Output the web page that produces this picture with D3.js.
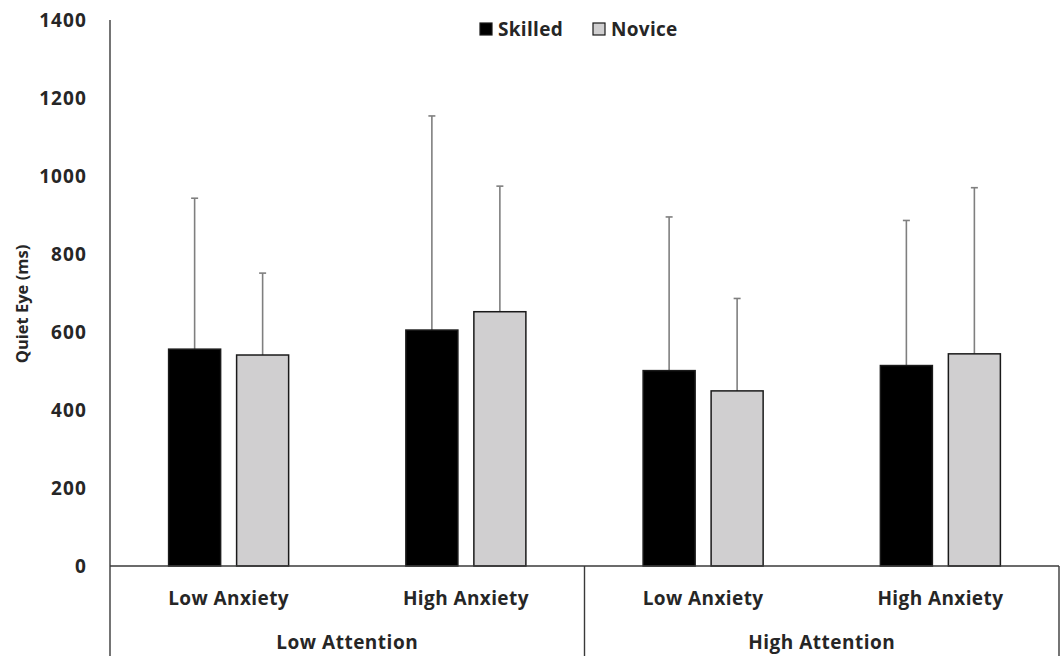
<!DOCTYPE html>
<html lang="en">
<head>
    <meta charset="UTF-8">
    <title>Quiet Eye by Attention and Anxiety</title>
    <script src="https://d3js.org/d3.v7.min.js"></script>
    <style>
        body {
            margin: 0;
            background: #ffffff;
        }
        svg text {
            font-family: 'Open Sans', sans-serif;
            font-weight: 700;
            fill: #262626;
        }
        .tick text { font-size: 19px; letter-spacing: 1.1px; }
        .cat-label { font-size: 19px; letter-spacing: 0.4px; }
        .group-label { font-size: 19px; letter-spacing: 0.5px; }
        .legend-label { font-size: 19px; letter-spacing: 0.3px; }
        .y-title { font-size: 16.5px; }
    </style>
</head>
<body>
    <svg id="chart"></svg>

    <script>
        // data
        const groups = ["Low Attention", "High Attention"];
        const anxiety = ["Low Anxiety", "High Anxiety"];
        const series = ["Skilled", "Novice"];
        const skilledMean = [556, 605, 501, 514];
        const skilledSD = [387, 549, 394, 372];
        const noviceMean = [541, 652, 449, 544];
        const noviceSD = [210, 322, 237, 426];
        const yTicks = [0, 200, 400, 600, 800, 1000, 1200, 1400];

        const width = 1060;
        const height = 656;
        const plotLeft = 110, plotRight = 1059, plotTop = 20, plotBottom = 566;

        const colors = { "Skilled": "#000000", "Novice": "#d0cfd0" };

        // one entry per bar cluster
        const conditions = [];
        groups.forEach(g => anxiety.forEach(a => conditions.push({ group: g, anxiety: a, key: g + "|" + a })));
        conditions.forEach((c, i) => {
            c.bars = [
                { name: "Skilled", mean: skilledMean[i], sd: skilledSD[i] },
                { name: "Novice", mean: noviceMean[i], sd: noviceSD[i] }
            ];
        });

        const svg = d3.select("#chart")
            .attr("width", width)
            .attr("height", height);

        const y = d3.scaleLinear().domain([0, 1400]).range([plotBottom, plotTop]);

        const x0 = d3.scaleBand()
            .domain(conditions.map(d => d.key))
            .range([plotLeft, plotRight]);

        const x1 = d3.scaleBand()
            .domain(series)
            .range([0, x0.bandwidth()])
            .paddingInner(0.235)
            .paddingOuter(0.862);

        const xg = d3.scaleBand()
            .domain(groups)
            .range([plotLeft, plotRight]);

        // y axis labels
        svg.append("g")
            .attr("transform", `translate(${plotLeft},0)`)
            .call(d3.axisLeft(y).tickValues(yTicks).tickSize(0).tickPadding(23).tickFormat(d3.format("d")))
            .call(g => g.select(".domain").remove())
            .call(g => g.selectAll("text").attr("dy", "0.35em"));

        svg.append("text")
            .attr("class", "y-title")
            .attr("transform", `translate(28,${(plotTop + plotBottom) / 2 + 11}) rotate(-90)`)
            .attr("text-anchor", "middle")
            .text("Quiet Eye (ms)");

        // bars
        const cluster = svg.selectAll(".cluster")
            .data(conditions)
            .enter()
            .append("g")
            .attr("class", "cluster")
            .attr("transform", d => `translate(${x0(d.key)},0)`);

        // error bars (upper only)
        cluster.selectAll(".err")
            .data(d => d.bars)
            .enter()
            .append("line")
            .attr("class", "err")
            .attr("x1", d => x1(d.name) + x1.bandwidth() / 2)
            .attr("x2", d => x1(d.name) + x1.bandwidth() / 2)
            .attr("y1", d => y(d.mean))
            .attr("y2", d => y(d.mean + d.sd))
            .attr("stroke", "#7f7f7f")
            .attr("stroke-width", 1.6);

        cluster.selectAll(".cap")
            .data(d => d.bars)
            .enter()
            .append("line")
            .attr("class", "cap")
            .attr("x1", d => x1(d.name) + x1.bandwidth() / 2 - 3.5)
            .attr("x2", d => x1(d.name) + x1.bandwidth() / 2 + 3.5)
            .attr("y1", d => y(d.mean + d.sd))
            .attr("y2", d => y(d.mean + d.sd))
            .attr("stroke", "#7f7f7f")
            .attr("stroke-width", 1.6);

        cluster.selectAll(".bar")
            .data(d => d.bars)
            .enter()
            .append("rect")
            .attr("class", "bar")
            .attr("x", d => x1(d.name))
            .attr("y", d => y(d.mean))
            .attr("width", x1.bandwidth())
            .attr("height", d => y(0) - y(d.mean))
            .attr("fill", d => colors[d.name])
            .attr("stroke", "#1a1a1a")
            .attr("stroke-width", 1.5);

        // axis frame
        const axisColor = "#3a3a3a";
        svg.append("line")
            .attr("x1", plotLeft).attr("x2", plotLeft)
            .attr("y1", plotTop).attr("y2", height)
            .attr("stroke", axisColor).attr("stroke-width", 1.4);
        svg.append("line")
            .attr("x1", plotLeft).attr("x2", plotRight)
            .attr("y1", y(0)).attr("y2", y(0))
            .attr("stroke", axisColor).attr("stroke-width", 1.4);

        // group separators below axis
        svg.selectAll(".sep")
            .data(groups)
            .enter()
            .append("line")
            .attr("class", "sep")
            .attr("x1", d => xg(d) + xg.bandwidth())
            .attr("x2", d => xg(d) + xg.bandwidth())
            .attr("y1", y(0))
            .attr("y2", height)
            .attr("stroke", axisColor)
            .attr("stroke-width", 1.4);

        // category labels
        svg.selectAll(".cat-label")
            .data(conditions)
            .enter()
            .append("text")
            .attr("class", "cat-label")
            .attr("x", d => x0(d.key) + x0.bandwidth() / 2)
            .attr("y", 598)
            .attr("dy", "0.35em")
            .attr("text-anchor", "middle")
            .text(d => d.anxiety);

        svg.selectAll(".group-label")
            .data(groups)
            .enter()
            .append("text")
            .attr("class", "group-label")
            .attr("x", d => xg(d) + xg.bandwidth() / 2)
            .attr("y", 642)
            .attr("dy", "0.35em")
            .attr("text-anchor", "middle")
            .text(d => d);

        // legend
        const legendX = [480, 593];
        const legend = svg.selectAll(".legend")
            .data(series)
            .enter()
            .append("g")
            .attr("class", "legend")
            .attr("transform", (d, i) => `translate(${legendX[i]},23)`);

        legend.append("rect")
            .attr("width", 12)
            .attr("height", 12)
            .attr("fill", d => colors[d])
            .attr("stroke", "#1a1a1a")
            .attr("stroke-width", 1.2);

        legend.append("text")
            .attr("class", "legend-label")
            .attr("x", 18)
            .attr("y", 6)
            .attr("dy", "0.35em")
            .text(d => d);
    </script>
</body>
</html>
